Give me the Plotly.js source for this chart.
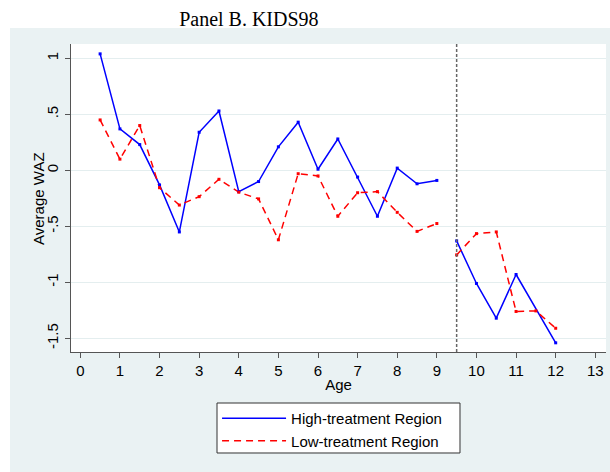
<!DOCTYPE html>
<html><head><meta charset="utf-8">
<script src="https://cdn.plot.ly/plotly-3.0.1.min.js"></script>
<style>html,body{margin:0;padding:0;background:#fff}#chart{width:610px;height:472px}</style>
</head><body><div id="chart"></div>
<script>
// Ages (years); a break between age 9 and 9.5
const highAgesBefore = [0.5,1,1.5,2,2.5,3,3.5,4,4.5,5,5.5,6,6.5,7,7.5,8,8.5,9];
const highAgesAfter  = [9.5,10,10.5,11,12];
const lowAgesBefore  = [0.5,1,1.5,2,2.5,3,3.5,4,4.5,5,5.5,6,6.5,7,7.5,8,8.5,9];
const lowAgesAfter   = [9.5,10,10.5,11,11.5,12];

// Average WAZ, High-treatment Region
const highBefore = [1.04,0.37,0.23,-0.13,-0.55,0.34,0.53,-0.19,-0.10,0.21,0.43,0.01,0.28,-0.06,-0.41,0.02,-0.12,-0.09];
const highAfter  = [-0.63,-1.01,-1.32,-0.93,-1.54];
// Average WAZ, Low-treatment Region
const lowBefore = [0.45,0.10,0.40,-0.155,-0.31,-0.235,-0.08,-0.195,-0.255,-0.62,-0.03,-0.05,-0.41,-0.20,-0.19,-0.375,-0.545,-0.475];
const lowAfter  = [-0.755,-0.565,-0.55,-1.26,-1.255,-1.41];

const seriesNames = ['High-treatment Region','Low-treatment Region'];
const xTicks = [0,1,2,3,4,5,6,7,8,9,10,11,12,13];
const yTicks = [-1.5,-1,-0.5,0,0.5,1];
const yTickText = ['-1.5','-1','-.5','0','.5','1'];
const cutoffAge = 9.5;
const yTitle = 'Average WAZ';

const BLUE = '#0000ff', RED = '#ff0000';
const bg = '#eaf2f3';

function lineTrace(x, y, name, color, dash, show) {
  return {x:x, y:y, type:'scatter', mode:'lines', name:name, legendgroup:name, showlegend:show,
          line:{color:color, width:1.5, dash:dash}, hoverinfo:'skip'};
}
function markTrace(x, y, color) {
  return {x:x, y:y, type:'scatter', mode:'markers', showlegend:false,
          marker:{symbol:'square', size:3, color:color}, hoverinfo:'skip'};
}

const traces = [
  lineTrace(highAgesBefore, highBefore, seriesNames[0], BLUE, 'solid', true),
  lineTrace(highAgesAfter, highAfter, seriesNames[0], BLUE, 'solid', false),
  lineTrace(lowAgesBefore, lowBefore, seriesNames[1], RED, '7px,5px', true),
  lineTrace(lowAgesAfter, lowAfter, seriesNames[1], RED, '7px,5px', false),
  markTrace(highAgesBefore, highBefore, BLUE),
  markTrace(highAgesAfter, highAfter, BLUE),
  markTrace(lowAgesBefore, lowBefore, RED),
  markTrace(lowAgesAfter, lowAfter, RED)
];

const font = {family:'"Liberation Sans", Arial, Helvetica, sans-serif', color:'#000', size:15};

const layout = {
  width:610, height:472,
  margin:{l:71, r:4, t:44, b:120},
  paper_bgcolor:'#ffffff', plot_bgcolor:'#ffffff',
  font:font,
  title:{text:'Panel B. KIDS98', font:{family:'"Liberation Serif", "Times New Roman", serif', size:20, color:'#000'},
         xref:'container', x:0.408, xanchor:'center', yref:'container', y:0.96, yanchor:'middle'},
  xaxis:{range:[-0.235,13.27], tickvals:xTicks, ticks:'outside', ticklen:5, tickcolor:'#555',
         showline:true, linecolor:'#555', linewidth:1, showgrid:false, zeroline:false,
         tickfont:{size:15}, title:{text:'Age', font:{size:15}, standoff:1}},
  yaxis:{range:[-1.622,1.128], tickvals:yTicks, ticktext:yTickText, tickangle:-90,
         ticklabelstandoff:1,
         ticks:'outside', ticklen:5, tickcolor:'#555', showline:true, linecolor:'#555', linewidth:1,
         showgrid:true, gridcolor:'#e4eeef', gridwidth:1, zeroline:false,
         tickfont:{size:15}},
  annotations:[
    {text:yTitle, xref:'paper', yref:'paper', x:-0.0617, y:0.5, xanchor:'center', yanchor:'middle',
     textangle:-90, showarrow:false, font:{size:15}}
  ],
  showlegend:true,
  legend:{x:0.273, y:-0.162, xanchor:'left', yanchor:'top', bgcolor:'rgba(0,0,0,0)',
          borderwidth:0, font:{size:15}, itemwidth:64, tracegroupgap:0},
  shapes:[
    {type:'rect', xref:'paper', yref:'paper', x0:-0.114, x1:1.0075, y0:-0.39, y1:1.052,
     fillcolor:bg, line:{width:0}, layer:'below'},
    {type:'rect', xref:'paper', yref:'paper', x0:0, x1:1, y0:0, y1:1,
     fillcolor:'#ffffff', line:{width:0}, layer:'below'},
    {type:'line', xref:'x', yref:'paper', x0:cutoffAge, x1:cutoffAge, y0:0, y1:1,
     line:{color:'#666', width:1.5, dash:'3px,2px'}, layer:'above'},
    {type:'rect', xref:'paper', yref:'paper', x0:0.2729, x1:0.7271, y0:-0.3279, y1:-0.1656,
     fillcolor:'#ffffff', line:{color:'#333', width:1}, layer:'above'}
  ]
};

Plotly.newPlot('chart', traces, layout, {staticPlot:true, displayModeBar:false});
</script>
</body></html>
